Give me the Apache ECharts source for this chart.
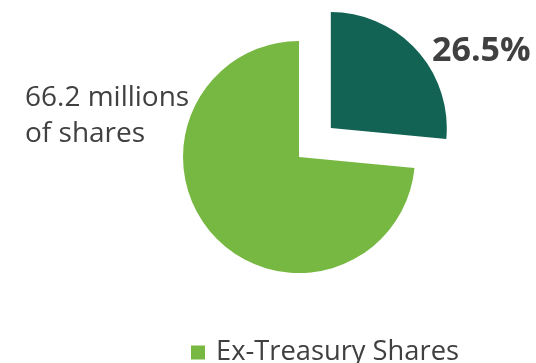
<!DOCTYPE html>
<html>
<head>
<meta charset="utf-8">
<style>
  html, body { margin: 0; padding: 0; background: #ffffff; }
  #chart { width: 536px; height: 363px; }
</style>
<script src="https://cdn.jsdelivr.net/npm/echarts@6/dist/echarts.min.js"></script>
</head>
<body>
<div id="chart"></div>
<script>
// Share breakdown (millions of shares)
const categories = ['Treasury Shares', 'Ex-Treasury Shares'];
const shareValues = [23.87, 66.2];
const sliceColors = ['#126353', '#77B843'];
const legendItems = ['Ex-Treasury Shares'];

const FONT = '"Open Sans", "Noto Sans", sans-serif';
const TEXT_COLOR = '#404040';

const PIE_CENTER = [299, 157];
const PIE_RADIUS = 116;
const EXPLODE = 43;

// The treasury slice is pulled out along its bisector
const total = shareValues.reduce((a, b) => a + b, 0);
const midDeg = 90 - (shareValues[0] / total) * 180;
const midRad = midDeg * Math.PI / 180;
const explodedCenter = [
  PIE_CENTER[0] + EXPLODE * Math.cos(midRad),
  PIE_CENTER[1] - EXPLODE * Math.sin(midRad)
];

const chart = echarts.init(document.getElementById('chart'), null, { renderer: 'canvas' });

// Builds the data for a pie layer that only paints one of the slices
function layerData(visibleIndex) {
  return categories.map((name, i) => {
    const item = { name: name, value: shareValues[i] };
    if (i !== visibleIndex) {
      item.itemStyle = { color: 'rgba(0,0,0,0)' };
      item.label = { show: false };
      return item;
    }
    item.itemStyle = { color: sliceColors[i] };
    if (i === 0) {
      item.label = { formatter: '{d}%', fontSize: 34, fontWeight: 'bold' };
    } else {
      item.label = {
        formatter: (p) => p.value + ' millions\nof shares',
        fontSize: 28,
        lineHeight: 36
      };
    }
    return item;
  });
}

const commonPie = {
  type: 'pie',
  radius: PIE_RADIUS,
  startAngle: 90,
  clockwise: true,
  avoidLabelOverlap: false,
  label: {
    show: true,
    position: 'outside',
    fontFamily: FONT,
    color: TEXT_COLOR
  },
  labelLine: { show: false },
  emphasis: { disabled: true },
  silent: true
};

chart.setOption({
  animation: false,
  legend: {
    data: legendItems.map((n) => ({ name: n, itemStyle: { color: sliceColors[categories.indexOf(n)] } })),
    left: 191,
    top: 339,
    padding: 0,
    icon: 'rect',
    itemWidth: 14,
    itemHeight: 14,
    textStyle: {
      fontFamily: FONT,
      fontSize: 27.3,
      color: TEXT_COLOR,
      padding: [0, 0, 0, 6]
    },
    selectedMode: false
  },
  series: [
    Object.assign({}, commonPie, {
      name: 'ex-treasury',
      center: PIE_CENTER,
      labelLayout: () => ({ x: 25, y: 116, align: 'left', verticalAlign: 'middle' }),
      data: layerData(1)
    }),
    Object.assign({}, commonPie, {
      name: 'treasury',
      center: explodedCenter,
      labelLayout: () => ({ x: 432, y: 51, align: 'left', verticalAlign: 'middle' }),
      data: layerData(0)
    })
  ]
});
</script>
</body>
</html>
